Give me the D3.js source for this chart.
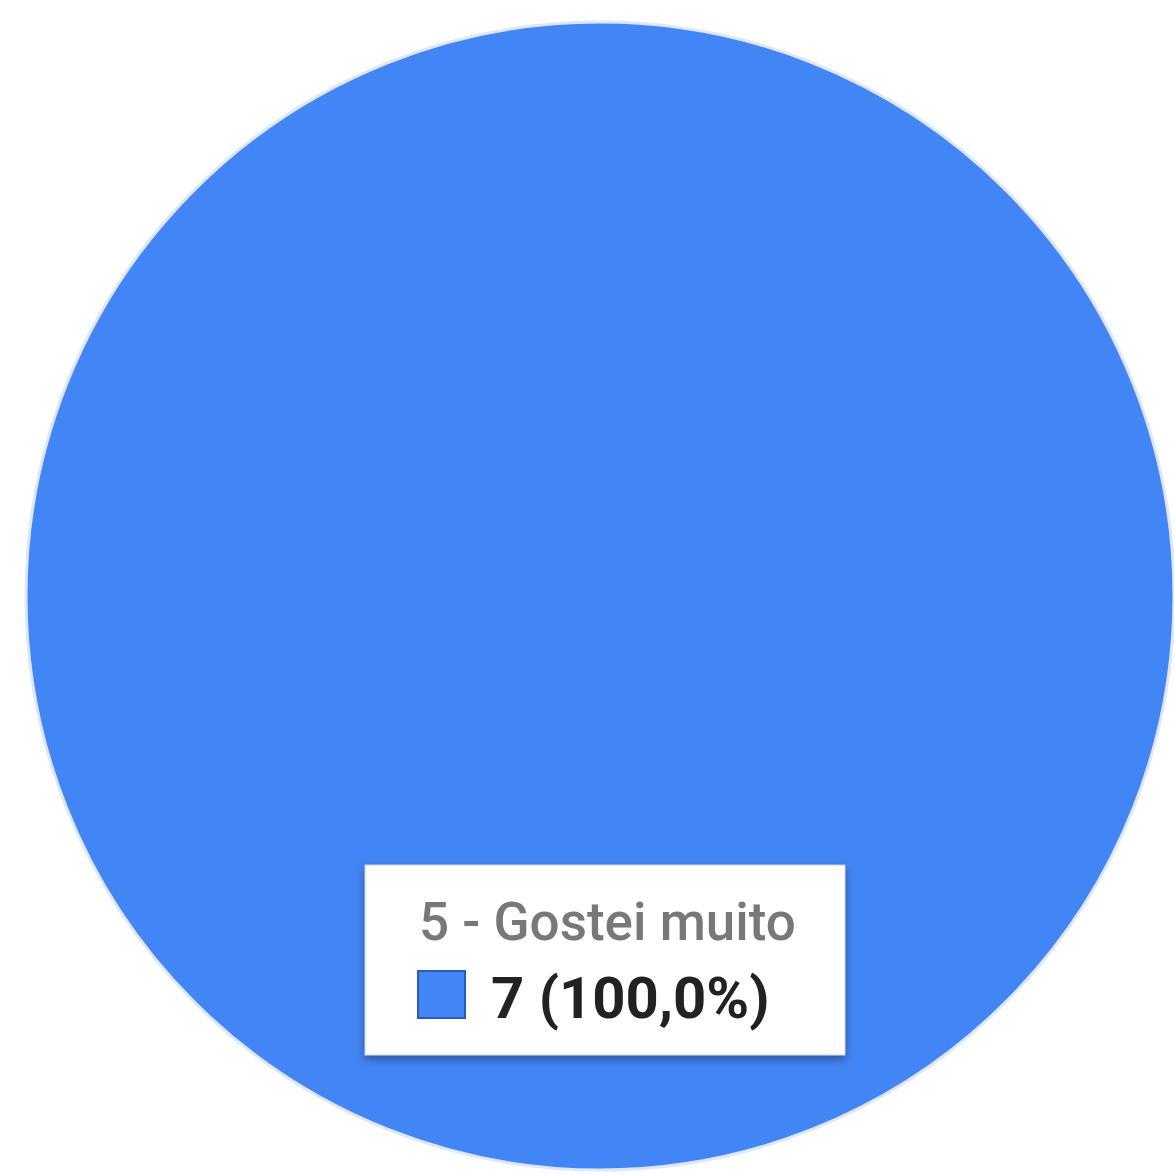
<!DOCTYPE html>
<html>
<head>
<meta charset="utf-8">
<script src="https://cdn.jsdelivr.net/npm/d3@7"></script>
<style>
  html, body { margin: 0; padding: 0; background: #fff; }
  svg { display: block; }
</style>
</head>
<body>
<svg id="chart" width="1174" height="1174"></svg>
<script>
// chart data
var categories = ['5 - Gostei muito'];
var values = [7];
var colors = ['#4285f4'];

var width = 1174, height = 1174;
var cx = 600, cy = 596, radius = 574;

var svg = d3.select('#chart');

var defs = svg.append('defs');
var shadow = defs.append('filter')
  .attr('id', 'shadow')
  .attr('x', '-10%').attr('y', '-10%')
  .attr('width', '120%').attr('height', '130%');
shadow.append('feDropShadow')
  .attr('dx', 0).attr('dy', 4)
  .attr('stdDeviation', 4)
  .attr('flood-color', '#000')
  .attr('flood-opacity', 0.35);

var pie = d3.pie().sort(null).value(function(d) { return d; });
var arc = d3.arc().innerRadius(0).outerRadius(radius);
var total = d3.sum(values);

var g = svg.append('g').attr('transform', 'translate(' + cx + ',' + cy + ')');

g.selectAll('path.slice')
  .data(pie(values))
  .enter().append('path')
  .attr('class', 'slice')
  .attr('d', arc)
  .attr('fill', function(d, i) { return colors[i]; })
  .attr('stroke', '#dfe6f5')
  .attr('stroke-width', 3);

// tooltip box for the hovered slice
var fmt = function(v) {
  return (v / total * 100).toFixed(1).replace('.', ',');
};

var tip = svg.append('g').attr('transform', 'translate(365,865)');
tip.append('rect')
  .attr('width', 480)
  .attr('height', 190)
  .attr('fill', '#fff')
  .attr('stroke', '#cccccc')
  .attr('stroke-width', 1)
  .attr('filter', 'url(#shadow)');

tip.append('text')
  .attr('x', 54)
  .attr('y', 75)
  .attr('font-family', 'Roboto, sans-serif')
  .attr('font-weight', 500)
  .attr('font-size', 53)
  .attr('fill', '#787878')
  .text(categories[0]);

tip.append('rect')
  .attr('x', 53)
  .attr('y', 106)
  .attr('width', 47)
  .attr('height', 47)
  .attr('fill', colors[0])
  .attr('stroke', '#2a5db8')
  .attr('stroke-width', 2);

tip.append('text')
  .attr('x', 126)
  .attr('y', 153)
  .attr('font-family', 'Roboto, sans-serif')
  .attr('font-weight', 'bold')
  .attr('font-size', 58)
  .attr('fill', '#222222')
  .text(values[0] + ' (' + fmt(values[0]) + '%)');
</script>
</body>
</html>
